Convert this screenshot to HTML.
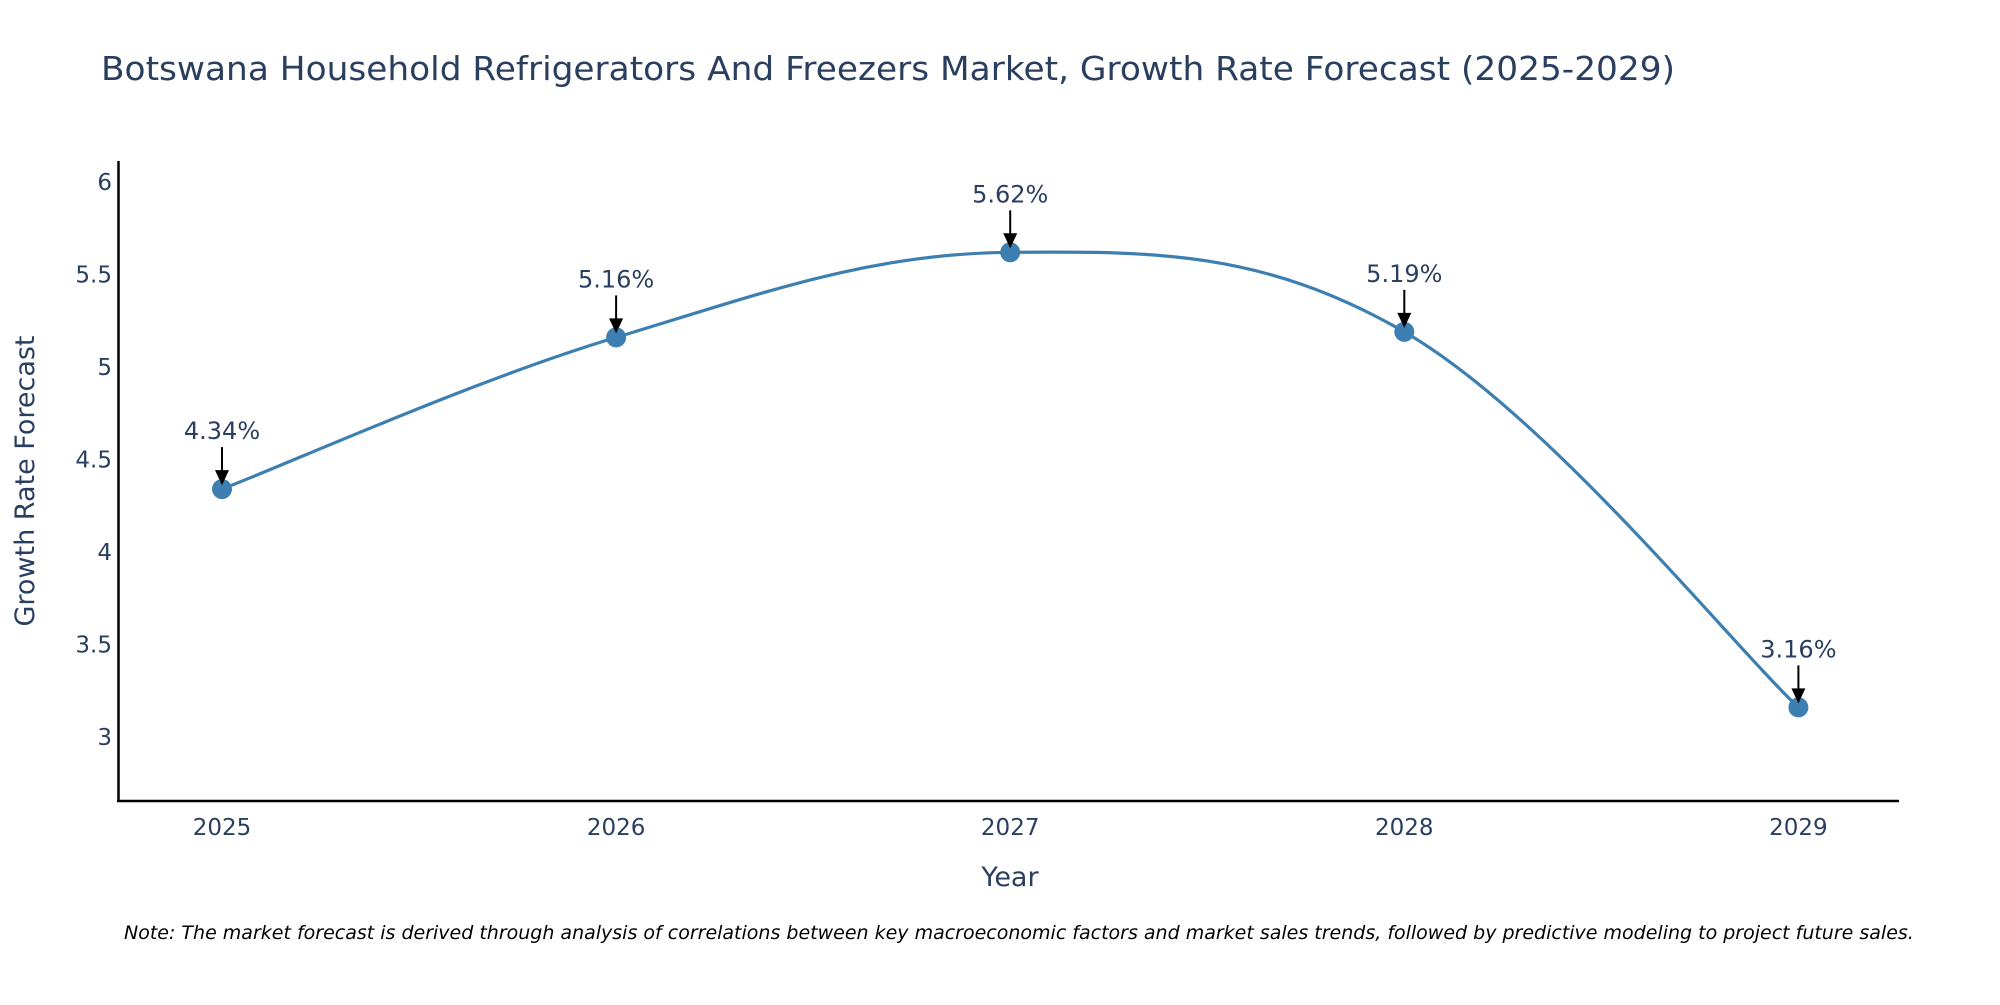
<!DOCTYPE html>
<html><head><meta charset="utf-8"><style>
body{margin:0;background:#fff;}
svg text{font-family:"DejaVu Sans","Liberation Sans",sans-serif;fill:#2a3f5f;}
</style></head><body>
<svg id="chart" width="2000" height="1000" viewBox="0 0 2000 1000">
<text x="101" y="80" font-size="33" textLength="1574" lengthAdjust="spacingAndGlyphs">Botswana Household Refrigerators And Freezers Market, Growth Rate Forecast (2025-2029)</text>
<g id="yticks"></g><g id="xticks"></g>
<line x1="118.5" y1="161" x2="118.5" y2="802" stroke="#000" stroke-width="2.5"/>
<line x1="117" y1="801" x2="1899" y2="801" stroke="#000" stroke-width="2.5"/>
<text transform="translate(34,481) rotate(-90)" text-anchor="middle" font-size="27">Growth Rate Forecast</text>
<text x="1010" y="886" text-anchor="middle" font-size="27">Year</text>
<g id="series"></g><g id="annots"></g>
<text x="124" y="939" font-size="19" font-style="italic" style="fill:#000">Note: The market forecast is derived through analysis of correlations between key macroeconomic factors and market sales trends, followed by predictive modeling to project future sales.</text>
</svg>
<script>
const years=[2025,2026,2027,2028,2029];
const values=[4.34,5.16,5.62,5.19,3.16];
const labels=["4.34%","5.16%","5.62%","5.19%","3.16%"];
const yTicks=[3,3.5,4,4.5,5,5.5,6];
const NS="http://www.w3.org/2000/svg";
function xs(i){return 222+i*394.1;}
function ys(v){return 182+(6-v)*185;}
function mk(t,a,p){const e=document.createElementNS(NS,t);for(const k in a)e.setAttribute(k,a[k]);p.appendChild(e);return e;}
const yt=document.getElementById('yticks');
yTicks.forEach(v=>{const t=mk('text',{x:112,y:ys(v)+8,'text-anchor':'end','font-size':23},yt);t.textContent=String(v);

});
const xt=document.getElementById('xticks');
years.forEach((y,i)=>{const t=mk('text',{x:xs(i),y:835,'text-anchor':'middle','font-size':23},xt);t.textContent=String(y);

});
const pts=values.map((v,i)=>[xs(i),ys(v)]);
let d='M'+pts[0][0]+','+pts[0][1];
const k=0.18;
for(let i=0;i<pts.length-1;i++){const p0=pts[Math.max(0,i-1)],p1=pts[i],p2=pts[i+1],p3=pts[Math.min(pts.length-1,i+2)];
const c1=[p1[0]+(p2[0]-p0[0])*k,p1[1]+(p2[1]-p0[1])*k];const c2=[p2[0]-(p3[0]-p1[0])*k,p2[1]-(p3[1]-p1[1])*k];
d+=' C'+c1+' '+c2+' '+p2;}
const s=document.getElementById('series');
const line=mk('path',{d:d,fill:'none',stroke:'#3d7fb0','stroke-width':3.2},s);


const an=document.getElementById('annots');
pts.forEach((p,i)=>{const c=mk('circle',{cx:p[0],cy:p[1],r:10,fill:'#3d7fb0'},s);


const l=mk('line',{x1:p[0],y1:p[1]-42,x2:p[0],y2:p[1]-18,stroke:'#000','stroke-width':2},an);


const h=mk('polygon',{points:(p[0]-7)+','+(p[1]-19)+' '+(p[0]+7)+','+(p[1]-19)+' '+p[0]+','+(p[1]-4),fill:'#000'},an);


const t=mk('text',{x:p[0],y:p[1]-50,'text-anchor':'middle','font-size':24},an);t.textContent=labels[i];

});
</script>
</body></html>
